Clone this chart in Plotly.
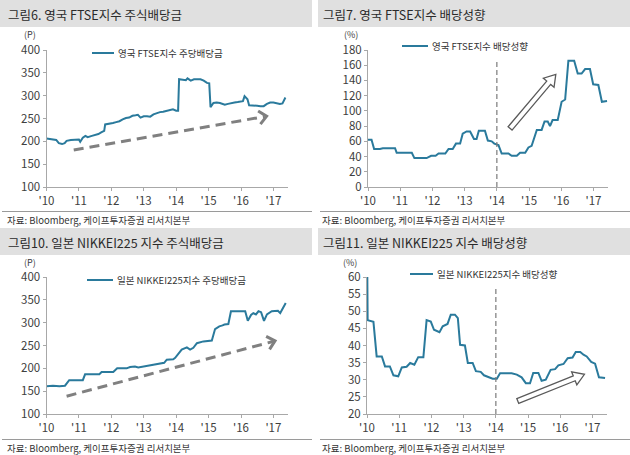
import math
import plotly.graph_objects as go

W, H = 630, 455

# ---------------- data ----------------
year_ticks = [2010, 2011, 2012, 2013, 2014, 2015, 2016, 2017]
year_labels = ["'10", "'11", "'12", "'13", "'14", "'15", "'16", "'17"]

# 그림6 : 영국 FTSE지수 주당배당금 (P)
ftse_dps_x = [2010.0, 2010.1, 2010.2, 2010.3, 2010.38, 2010.48, 2010.56, 2010.62, 2010.75, 2010.9,
              2011.0, 2011.04, 2011.12, 2011.2, 2011.27, 2011.4, 2011.5, 2011.6, 2011.7, 2011.78,
              2011.81, 2011.95, 2012.05, 2012.15, 2012.25, 2012.35, 2012.45, 2012.55, 2012.65, 2012.75,
              2012.82, 2012.9, 2013.0, 2013.1, 2013.2, 2013.3, 2013.4, 2013.5, 2013.6, 2013.7,
              2013.8, 2013.9, 2014.0, 2014.06, 2014.09, 2014.2, 2014.3, 2014.35, 2014.45, 2014.55,
              2014.65, 2014.75, 2014.85, 2014.95, 2015.02, 2015.06, 2015.15, 2015.25, 2015.35, 2015.45,
              2015.5, 2015.6, 2015.7, 2015.8, 2015.9, 2016.0, 2016.06, 2016.11, 2016.2, 2016.25,
              2016.4, 2016.5, 2016.6, 2016.7, 2016.8, 2016.9, 2017.0, 2017.1, 2017.2, 2017.28, 2017.37]
ftse_dps_y = [206, 205, 204, 203, 196, 194, 196, 201, 203, 204,
              204, 199, 208, 212, 209, 212, 214, 216, 220, 223,
              237, 238, 240, 242, 244, 248, 251, 252, 256, 257,
              258, 252, 255, 255, 254, 259, 262, 264, 265, 267,
              268, 270, 267, 267, 336, 335, 334, 338, 333, 336,
              336, 336, 333, 328, 327, 275, 284, 285, 284, 282,
              280, 282, 284, 285, 286, 287, 288, 299, 292, 279,
              279, 278, 277, 277, 282, 285, 285, 283, 282, 283, 296]

# 그림7 : 영국 FTSE지수 배당성향 (%)
ftse_pay_x = [2010.0, 2010.11, 2010.19, 2010.37, 2010.46, 2010.84, 2010.89, 2011.36, 2011.44, 2011.82,
              2011.96, 2012.1, 2012.19, 2012.4, 2012.5, 2012.63, 2012.73, 2012.86, 2012.94, 2013.06,
              2013.17, 2013.29, 2013.37, 2013.44, 2013.63, 2013.72, 2013.84, 2013.92, 2014.05, 2014.15,
              2014.36, 2014.46, 2014.62, 2014.72, 2014.88, 2014.98, 2015.08, 2015.24, 2015.39, 2015.48,
              2015.58, 2015.65, 2015.73, 2015.89, 2016.01, 2016.12, 2016.22, 2016.4, 2016.51, 2016.63,
              2016.74, 2016.89, 2016.99, 2017.15, 2017.26, 2017.42]
ftse_pay_y = [62, 62, 50, 50, 51, 51, 45, 45, 38, 38,
              41, 41, 44, 44, 50, 50, 57, 57, 70, 73,
              73, 63, 63, 74, 74, 61, 60, 57, 55, 44,
              44, 41, 41, 45, 45, 52, 54, 75, 75, 86,
              86, 80, 88, 88, 112, 115, 166, 166, 149, 149,
              155, 155, 135, 134, 112, 113]

# 그림10 : 일본 NIKKEI225지수 주당배당금 (P)
nikkei_dps_x = [2010.0, 2010.2, 2010.4, 2010.57, 2010.7, 2011.12, 2011.19, 2011.63, 2011.7, 2012.06,
                2012.18, 2012.47, 2012.58, 2012.73, 2012.83, 2012.99, 2013.14, 2013.32, 2013.48, 2013.63,
                2013.71, 2013.91, 2013.97, 2014.17, 2014.33, 2014.43, 2014.53, 2014.64, 2014.84, 2015.1,
                2015.2, 2015.33, 2015.43, 2015.49, 2015.61, 2015.69, 2016.13, 2016.21, 2016.31, 2016.38,
                2016.46, 2016.54, 2016.62, 2016.71, 2016.8, 2016.95, 2017.14, 2017.21, 2017.38]
nikkei_dps_y = [161, 162, 161, 162, 174, 174, 187, 187, 192, 192,
                200, 200, 203, 204, 202, 204, 207, 209, 210, 212,
                219, 220, 223, 241, 246, 241, 245, 255, 259, 261,
                286, 292, 294, 296, 297, 325, 325, 304, 317, 321,
                318, 325, 323, 304, 318, 325, 326, 321, 343]

# 그림11 : 일본 NIKKEI225지수 배당성향 (%)
nikkei_pay_x = [2010.01, 2010.02, 2010.2, 2010.3, 2010.46, 2010.56, 2010.71, 2010.82, 2010.97, 2011.08,
                2011.23, 2011.34, 2011.47, 2011.59, 2011.75, 2011.85, 2011.98, 2012.08, 2012.25, 2012.35,
                2012.5, 2012.6, 2012.73, 2012.82, 2012.89, 2013.04, 2013.13, 2013.28, 2013.38, 2013.53,
                2013.63, 2013.8, 2013.9, 2014.03, 2014.13, 2014.49, 2014.65, 2014.8, 2014.93, 2015.06,
                2015.16, 2015.32, 2015.42, 2015.55, 2015.7, 2015.84, 2015.94, 2016.1, 2016.23, 2016.38,
                2016.48, 2016.62, 2016.72, 2016.82, 2016.96, 2017.08, 2017.2, 2017.39]
nikkei_pay_y = [60, 47.4, 46.9, 36.8, 36.8, 33.9, 33.9, 31.3, 31, 33.6,
                33.8, 34.9, 34.4, 36.6, 36.6, 47.4, 47, 44.6, 43.9, 45.6,
                46.3, 49, 49, 48, 40.2, 40, 34.9, 34.9, 32.5, 32.3,
                31.3, 30.8, 30.3, 30.3, 31.9, 31.9, 31.5, 30.7, 29, 29,
                32, 32, 29.7, 30, 32.9, 33.1, 34.2, 34.6, 36.3, 36.5,
                38.1, 38.1, 37.3, 36.8, 35.2, 34.7, 30.7, 30.5]

titles = ["그림6. 영국 FTSE지수 주식배당금", "그림7. 영국 FTSE지수 배당성향",
          "그림10. 일본 NIKKEI225 지수 주식배당금", "그림11. 일본 NIKKEI225 지수 배당성향"]
series_names = ["영국 FTSE지수 주당배당금", "영국 FTSE지수 배당성향",
                "일본 NIKKEI225지수 주당배당금", "일본 NIKKEI225지수 배당성향"]
units = ["(P)", "(%)", "(P)", "(%)"]
source_text = "자료: Bloomberg, 케이프투자증권 리서치본부"

# ---------------- style / layout ----------------
FONT = "Noto Sans CJK KR, Noto Sans, sans-serif"
LINE = "#2a7a9c"
AXIS = "#a8a8a8"
TXT = "#404040"
XR = (2010, 2017.45)

panels = [
    dict(l=46.5, r=288, t=50, b=187, yr=(100, 400), dt=50, ox=0, oy=0),
    dict(l=368, r=608, t=50, b=187, yr=(0, 180), dt=20, ox=315, oy=0),
    dict(l=46.5, r=288, t=277, b=414, yr=(100, 400), dt=50, ox=0, oy=228),
    dict(l=367, r=607, t=277, b=414, yr=(20, 60), dt=5, ox=315, oy=228),
]
data = [(ftse_dps_x, ftse_dps_y), (ftse_pay_x, ftse_pay_y),
        (nikkei_dps_x, nikkei_dps_y), (nikkei_pay_x, nikkei_pay_y)]


def to_px(p, x, y):
    px = p["l"] + (x - XR[0]) / (XR[1] - XR[0]) * (p["r"] - p["l"])
    py = p["b"] - (y - p["yr"][0]) / (p["yr"][1] - p["yr"][0]) * (p["b"] - p["t"])
    return px, py


def to_data(p, px, py):
    x = XR[0] + (px - p["l"]) / (p["r"] - p["l"]) * (XR[1] - XR[0])
    y = p["yr"][0] + (p["b"] - py) / (p["b"] - p["t"]) * (p["yr"][1] - p["yr"][0])
    return x, y


def px2paper(px, py):
    return px / W, 1 - py / H


fig = go.Figure()
shapes = []
annotations = []

for i, (p, (xs, ys)) in enumerate(zip(panels, data)):
    sfx = "" if i == 0 else str(i + 1)
    xref, yref = "x" + sfx, "y" + sfx
    fig.add_trace(go.Scatter(x=xs, y=ys, mode="lines", xaxis=xref, yaxis=yref,
                             line=dict(color=LINE, width=2), showlegend=False,
                             hoverinfo="skip"))
    xd = [p["l"] / W, p["r"] / W]
    yd = [1 - p["b"] / H, 1 - p["t"] / H]
    common = dict(showline=True, linecolor=AXIS, linewidth=1, ticks="outside", ticklen=3,
                  tickcolor=AXIS, showgrid=False, zeroline=False, automargin=False,
                  tickfont=dict(family=FONT, size=11.5, color=TXT), fixedrange=True)
    fig.layout["xaxis" + sfx] = dict(domain=xd, range=list(XR), anchor=yref,
                                     tickmode="array", tickvals=year_ticks,
                                     ticktext=year_labels, **common)
    fig.layout["yaxis" + sfx] = dict(domain=yd, range=list(p["yr"]), anchor=xref,
                                     tick0=p["yr"][0], dtick=p["dt"], **common)

    ox, oy = p["ox"], p["oy"]
    # title bar
    bx0 = ox + (0 if ox == 0 else 3)
    bx1 = ox + (312 if ox == 0 else 315)
    a, b = px2paper(bx0, oy + 0)
    c, d = px2paper(bx1, oy + 27)
    shapes.append(dict(type="rect", xref="paper", yref="paper", x0=a, y0=d, x1=c, y1=b,
                       fillcolor="#e0e0e0", line=dict(width=0), layer="below"))
    tx, ty = px2paper(ox + 6, oy + 14)
    annotations.append(dict(text=titles[i], x=tx, y=ty, xref="paper", yref="paper",
                            xanchor="left", yanchor="middle", showarrow=False,
                            font=dict(family=FONT, size=12.5, color="#2a2a2a")))
    # separator + source
    a, b = px2paper(bx0 + 2, oy + 211.5)
    c, _ = px2paper(bx1, oy + 211.5)
    shapes.append(dict(type="line", xref="paper", yref="paper", x0=a, y0=b, x1=c, y1=b,
                       line=dict(color="#9a9a9a", width=1)))
    sx, sy = px2paper(ox + 5, oy + 220)
    annotations.append(dict(text=source_text, x=sx, y=sy, xref="paper", yref="paper",
                            xanchor="left", yanchor="middle", showarrow=False,
                            font=dict(family=FONT, size=9.5, color="#333333")))
    # unit label
    ux, uy = px2paper(p["l"] - 17, p["t"] - 15)
    annotations.append(dict(text=units[i], x=ux, y=uy, xref="paper", yref="paper",
                            xanchor="center", yanchor="middle", showarrow=False,
                            borderpad=0, font=dict(family=FONT, size=9, color=TXT)))

# legends (line sample + text)
legend_pos = [(92, 114, 53), (402, 428, 46), (87, 113, 280), (410, 433, 274)]
for i, (lx0, lx1, ly) in enumerate(legend_pos):
    a, b = px2paper(lx0, ly)
    c, _ = px2paper(lx1, ly)
    shapes.append(dict(type="line", xref="paper", yref="paper", x0=a, y0=b, x1=c, y1=b,
                       line=dict(color=LINE, width=2)))
    tx, ty = px2paper(lx1 + 2, ly)
    annotations.append(dict(text=series_names[i], x=tx, y=ty, xref="paper", yref="paper",
                            xanchor="left", yanchor="middle", showarrow=False,
                            font=dict(family=FONT, size=9.5, color="#333333")))

# vertical dashed lines at '14
for i, top in [(1, 168), (3, 56.5)]:
    sfx = str(i + 1)
    shapes.append(dict(type="line", xref="x" + sfx, yref="y" + sfx, x0=2014, x1=2014,
                       y0=panels[i]["yr"][0], y1=top,
                       line=dict(color="#7a7a7a", width=1.2, dash="5px,3px")))


def hollow_arrow(i, tail, tip, w=2.6, hw=7, hl=11):
    p = panels[i]
    sfx = "" if i == 0 else str(i + 1)
    tx, ty = to_px(p, *tail)
    hx, hy = to_px(p, *tip)
    dx, dy = hx - tx, hy - ty
    L = math.hypot(dx, dy)
    ux, uy = dx / L, dy / L
    nx, ny = -uy, ux
    bx, by = hx - ux * hl, hy - uy * hl
    pts = [(tx + nx * w, ty + ny * w), (bx + nx * w, by + ny * w), (bx + nx * hw, by + ny * hw),
           (hx, hy), (bx - nx * hw, by - ny * hw), (bx - nx * w, by - ny * w),
           (tx - nx * w, ty - ny * w)]
    dpts = [to_data(p, *q) for q in pts]
    path = "M " + " L ".join(f"{x:.5f},{y:.5f}" for x, y in dpts) + " Z"
    return dict(type="path", path=path, xref="x" + sfx, yref="y" + sfx, fillcolor="white",
                line=dict(color="#5a5a5a", width=1.3), layer="above")


def dashed_arrow(i, tail, tip, arm=10, ang=42):
    p = panels[i]
    sfx = "" if i == 0 else str(i + 1)
    tx, ty = to_px(p, *tail)
    hx, hy = to_px(p, *tip)
    dx, dy = hx - tx, hy - ty
    L = math.hypot(dx, dy)
    ux, uy = dx / L, dy / L
    nx, ny = -uy, ux
    ca, sa = math.cos(math.radians(ang)), math.sin(math.radians(ang))
    ex, ey = to_data(p, hx - ux * 2, hy - uy * 2)
    out = [dict(type="line", xref="x" + sfx, yref="y" + sfx, x0=tail[0], y0=tail[1], x1=ex, y1=ey,
                line=dict(color="#808080", width=3, dash="10px,6px"))]
    a = to_data(p, hx - ux * arm * ca + nx * arm * sa, hy - uy * arm * ca + ny * arm * sa)
    b = to_data(p, hx - ux * arm * ca - nx * arm * sa, hy - uy * arm * ca - ny * arm * sa)
    h = to_data(p, hx, hy)
    path = f"M {a[0]:.5f},{a[1]:.5f} L {h[0]:.5f},{h[1]:.5f} L {b[0]:.5f},{b[1]:.5f}"
    out.append(dict(type="path", path=path, xref="x" + sfx, yref="y" + sfx,
                    line=dict(color="#808080", width=3)))
    return out


shapes += dashed_arrow(0, (2010.84, 181), (2016.79, 255))
shapes += dashed_arrow(2, (2010.62, 139), (2017.05, 260))
shapes.append(hollow_arrow(1, (2014.41, 77), (2015.83, 148)))
shapes.append(hollow_arrow(3, (2014.68, 23.8), (2016.75, 31.6)))

fig.update_layout(width=W, height=H, margin=dict(l=0, r=0, t=0, b=0, pad=0),
                  paper_bgcolor="white", plot_bgcolor="white", template="none",
                  shapes=shapes, annotations=annotations,
                  font=dict(family=FONT, color=TXT))

# remove the browser's default 8px page margin so the 630x455 figure fills the window
fig.write_html("out.html", config={"displayModeBar": False},
               post_script="document.body.style.margin='0';")
